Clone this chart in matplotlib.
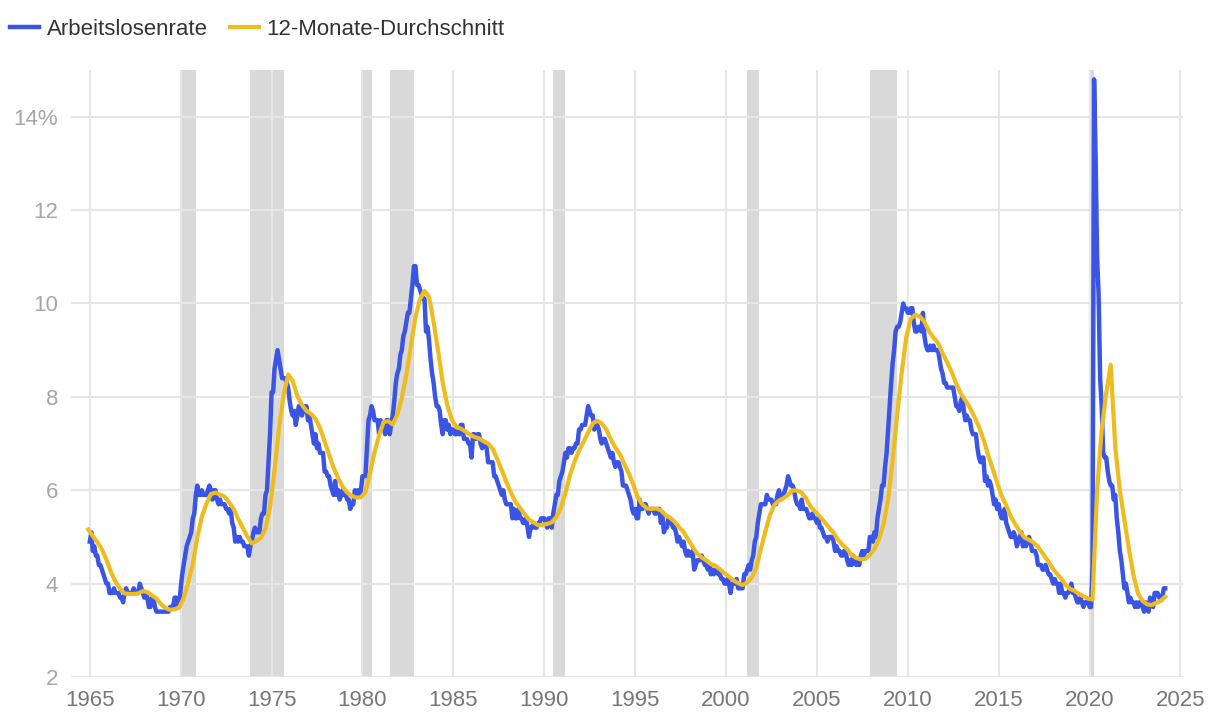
import matplotlib.pyplot as plt
import matplotlib.dates as mdates
import pandas as pd

plt.rcParams["font.family"] = ["Liberation Sans", "DejaVu Sans"]

BLUE = "#3a55e6"
YELLOW = "#efbc1f"
SHADE = "#d9d9d9"
GRID = "#e6e6e6"

# monthly unemployment rate in %, Jan 1965 - Mar 2024
unemployment_rate = [
    4.9, 5.1, 4.7, 4.8, 4.6, 4.6, 4.4, 4.4, 4.3, 4.2, 4.1, 4.0,   # 1965
    4.0, 3.8, 3.8, 3.8, 3.9, 3.8, 3.8, 3.8, 3.7, 3.7, 3.6, 3.8,   # 1966
    3.9, 3.8, 3.8, 3.8, 3.8, 3.9, 3.8, 3.8, 3.8, 4.0, 3.9, 3.8,   # 1967
    3.7, 3.8, 3.7, 3.5, 3.5, 3.7, 3.7, 3.5, 3.4, 3.4, 3.4, 3.4,   # 1968
    3.4, 3.4, 3.4, 3.4, 3.4, 3.5, 3.5, 3.5, 3.7, 3.7, 3.5, 3.5,   # 1969
    3.9, 4.2, 4.4, 4.6, 4.8, 4.9, 5.0, 5.1, 5.4, 5.5, 5.9, 6.1,   # 1970
    5.9, 5.9, 6.0, 5.9, 5.9, 5.9, 6.0, 6.1, 6.0, 5.8, 6.0, 6.0,   # 1971
    5.8, 5.7, 5.8, 5.7, 5.7, 5.7, 5.6, 5.6, 5.5, 5.6, 5.3, 5.2,   # 1972
    4.9, 5.0, 4.9, 5.0, 4.9, 4.9, 4.8, 4.8, 4.8, 4.6, 4.8, 4.9,   # 1973
    5.1, 5.2, 5.1, 5.1, 5.1, 5.4, 5.5, 5.5, 5.9, 6.0, 6.6, 7.2,   # 1974
    8.1, 8.1, 8.6, 8.8, 9.0, 8.8, 8.6, 8.4, 8.4, 8.4, 8.3, 8.2,   # 1975
    7.9, 7.7, 7.6, 7.7, 7.4, 7.6, 7.8, 7.8, 7.6, 7.7, 7.8, 7.8,   # 1976
    7.5, 7.6, 7.4, 7.2, 7.0, 7.2, 6.9, 7.0, 6.8, 6.8, 6.8, 6.4,   # 1977
    6.4, 6.3, 6.3, 6.1, 6.0, 5.9, 6.2, 5.9, 6.0, 5.8, 5.9, 6.0,   # 1978
    5.9, 5.9, 5.8, 5.8, 5.6, 5.7, 5.7, 6.0, 5.9, 6.0, 5.9, 6.0,   # 1979
    6.3, 6.3, 6.3, 6.9, 7.5, 7.6, 7.8, 7.7, 7.5, 7.5, 7.5, 7.2,   # 1980
    7.5, 7.4, 7.4, 7.2, 7.5, 7.5, 7.2, 7.4, 7.6, 7.9, 8.3, 8.5,   # 1981
    8.6, 8.9, 9.0, 9.3, 9.4, 9.6, 9.8, 9.8, 10.1, 10.4, 10.8, 10.8,  # 1982
    10.4, 10.4, 10.3, 10.2, 10.1, 10.1, 9.4, 9.5, 9.2, 8.8, 8.5, 8.3,  # 1983
    8.0, 7.8, 7.8, 7.7, 7.4, 7.2, 7.5, 7.5, 7.3, 7.4, 7.2, 7.3,   # 1984
    7.3, 7.2, 7.2, 7.3, 7.2, 7.4, 7.4, 7.1, 7.1, 7.1, 7.0, 7.0,   # 1985
    6.7, 7.2, 7.2, 7.1, 7.2, 7.2, 7.0, 6.9, 7.0, 7.0, 6.9, 6.6,   # 1986
    6.6, 6.6, 6.6, 6.3, 6.3, 6.2, 6.1, 6.0, 5.9, 6.0, 5.8, 5.7,   # 1987
    5.7, 5.7, 5.7, 5.4, 5.6, 5.4, 5.4, 5.6, 5.4, 5.4, 5.3, 5.3,   # 1988
    5.4, 5.2, 5.0, 5.2, 5.2, 5.3, 5.2, 5.2, 5.3, 5.3, 5.4, 5.4,   # 1989
    5.4, 5.3, 5.2, 5.4, 5.4, 5.2, 5.5, 5.7, 5.9, 5.9, 6.2, 6.3,   # 1990
    6.4, 6.6, 6.8, 6.7, 6.9, 6.9, 6.8, 6.9, 6.9, 7.0, 7.0, 7.3,   # 1991
    7.3, 7.4, 7.4, 7.4, 7.6, 7.8, 7.7, 7.6, 7.6, 7.3, 7.4, 7.4,   # 1992
    7.3, 7.1, 7.0, 7.1, 7.1, 7.0, 6.9, 6.8, 6.7, 6.8, 6.6, 6.5,   # 1993
    6.6, 6.6, 6.5, 6.4, 6.1, 6.1, 6.1, 6.0, 5.9, 5.8, 5.6, 5.5,   # 1994
    5.6, 5.4, 5.4, 5.8, 5.6, 5.6, 5.7, 5.7, 5.6, 5.5, 5.6, 5.6,   # 1995
    5.6, 5.5, 5.5, 5.6, 5.6, 5.3, 5.5, 5.1, 5.2, 5.2, 5.4, 5.4,   # 1996
    5.3, 5.2, 5.2, 5.1, 4.9, 5.0, 4.9, 4.8, 4.9, 4.7, 4.6, 4.7,   # 1997
    4.6, 4.6, 4.7, 4.3, 4.4, 4.5, 4.5, 4.5, 4.6, 4.5, 4.4, 4.4,   # 1998
    4.3, 4.4, 4.2, 4.3, 4.2, 4.3, 4.3, 4.2, 4.2, 4.1, 4.1, 4.0,   # 1999
    4.0, 4.1, 4.0, 3.8, 4.0, 4.0, 4.0, 4.1, 3.9, 3.9, 3.9, 3.9,   # 2000
    4.2, 4.2, 4.3, 4.4, 4.3, 4.5, 4.6, 4.9, 5.0, 5.3, 5.5, 5.7,   # 2001
    5.7, 5.7, 5.7, 5.9, 5.8, 5.8, 5.8, 5.7, 5.7, 5.7, 5.9, 6.0,   # 2002
    5.8, 5.9, 5.9, 6.0, 6.1, 6.3, 6.2, 6.1, 6.1, 6.0, 5.8, 5.7,   # 2003
    5.7, 5.6, 5.8, 5.6, 5.6, 5.6, 5.5, 5.4, 5.4, 5.5, 5.4, 5.4,   # 2004
    5.3, 5.4, 5.2, 5.2, 5.1, 5.0, 5.0, 4.9, 5.0, 5.0, 5.0, 4.9,   # 2005
    4.7, 4.8, 4.7, 4.7, 4.6, 4.6, 4.7, 4.7, 4.5, 4.4, 4.5, 4.4,   # 2006
    4.6, 4.5, 4.4, 4.5, 4.4, 4.6, 4.7, 4.6, 4.7, 4.7, 4.7, 5.0,   # 2007
    5.0, 4.9, 5.1, 5.0, 5.4, 5.6, 5.8, 6.1, 6.1, 6.5, 6.8, 7.3,   # 2008
    7.8, 8.3, 8.7, 9.0, 9.4, 9.5, 9.5, 9.6, 9.8, 10.0, 9.9, 9.9,  # 2009
    9.8, 9.8, 9.9, 9.9, 9.6, 9.4, 9.4, 9.5, 9.5, 9.4, 9.8, 9.3,   # 2010
    9.1, 9.0, 9.0, 9.1, 9.0, 9.1, 9.0, 9.0, 9.0, 8.8, 8.6, 8.5,   # 2011
    8.3, 8.3, 8.2, 8.2, 8.2, 8.2, 8.2, 8.0, 7.8, 7.8, 7.7, 7.9,   # 2012
    8.0, 7.7, 7.5, 7.6, 7.5, 7.5, 7.3, 7.2, 7.2, 7.2, 6.9, 6.7,   # 2013
    6.6, 6.7, 6.7, 6.2, 6.3, 6.1, 6.2, 6.1, 5.9, 5.7, 5.8, 5.6,   # 2014
    5.7, 5.5, 5.4, 5.4, 5.6, 5.3, 5.2, 5.1, 5.0, 5.0, 5.1, 5.0,   # 2015
    4.8, 4.9, 5.0, 5.1, 4.8, 4.9, 4.8, 4.9, 5.0, 4.9, 4.7, 4.7,   # 2016
    4.7, 4.6, 4.4, 4.4, 4.4, 4.3, 4.3, 4.4, 4.3, 4.2, 4.2, 4.1,   # 2017
    4.0, 4.1, 4.0, 4.0, 3.8, 4.0, 3.8, 3.8, 3.7, 3.8, 3.8, 3.9,   # 2018
    4.0, 3.8, 3.8, 3.7, 3.6, 3.6, 3.7, 3.6, 3.5, 3.6, 3.6, 3.6,   # 2019
    3.5, 3.5, 4.4, 14.8, 13.2, 11.0, 10.2, 8.4, 7.8, 6.8, 6.7, 6.7,  # 2020
    6.4, 6.2, 6.1, 6.1, 5.8, 5.9, 5.4, 5.1, 4.7, 4.5, 4.2, 3.9,   # 2021
    4.0, 3.8, 3.6, 3.7, 3.6, 3.6, 3.5, 3.6, 3.5, 3.6, 3.6, 3.5,   # 2022
    3.4, 3.6, 3.5, 3.4, 3.7, 3.6, 3.5, 3.8, 3.8, 3.8, 3.7, 3.7,   # 2023
    3.7, 3.9, 3.9,                                                # 2024
]

# 12-month average, read at quarter ends, Dec 1964 - Mar 2024
avg_12m = [
    5.16,                          # 1964
    5.02, 4.89, 4.73, 4.51,        # 1965
    4.25, 4.04, 3.89, 3.79,        # 1966
    3.78, 3.78, 3.79, 3.84,        # 1967
    3.82, 3.75, 3.68, 3.56,        # 1968
    3.48, 3.44, 3.45, 3.49,        # 1969
    3.69, 4.02, 4.42, 4.99,        # 1970
    5.43, 5.71, 5.92, 5.95,        # 1971
    5.91, 5.86, 5.74, 5.60,        # 1972
    5.39, 5.20, 5.01, 4.86,        # 1973
    4.91, 4.98, 5.18, 5.64,        # 1974
    6.43, 7.34, 8.05, 8.48,        # 1975
    8.34, 8.02, 7.83, 7.70,        # 1976
    7.64, 7.53, 7.33, 7.05,        # 1977
    6.76, 6.48, 6.26, 6.07,        # 1978
    5.95, 5.88, 5.84, 5.85,        # 1979
    5.96, 6.37, 6.82, 7.18,        # 1980
    7.46, 7.48, 7.41, 7.62,        # 1981
    7.97, 8.47, 9.10, 9.71,        # 1982
    10.09, 10.27, 10.14, 9.60,     # 1983
    8.98, 8.30, 7.82, 7.51,        # 1984
    7.35, 7.32, 7.26, 7.19,        # 1985
    7.14, 7.11, 7.05, 7.00,        # 1986
    6.89, 6.67, 6.43, 6.18,        # 1987
    5.95, 5.75, 5.62, 5.49,        # 1988
    5.37, 5.31, 5.25, 5.26,        # 1989
    5.28, 5.31, 5.43, 5.62,        # 1990
    5.94, 6.32, 6.61, 6.85,        # 1991
    7.04, 7.24, 7.43, 7.49,        # 1992
    7.43, 7.30, 7.09, 6.91,        # 1993
    6.77, 6.55, 6.35, 6.10,        # 1994
    5.83, 5.69, 5.61, 5.60,        # 1995
    5.61, 5.57, 5.47, 5.41,        # 1996
    5.33, 5.21, 5.11, 4.94,        # 1997
    4.79, 4.64, 4.56, 4.50,        # 1998
    4.42, 4.38, 4.31, 4.22,        # 1999
    4.15, 4.07, 4.01, 3.97,        # 2000
    4.02, 4.13, 4.34, 4.74,        # 2001
    5.11, 5.47, 5.69, 5.78,        # 2002
    5.83, 5.90, 6.00, 5.99,        # 2003
    5.95, 5.82, 5.64, 5.54,        # 2004
    5.44, 5.32, 5.20, 5.09,        # 2005
    4.94, 4.83, 4.74, 4.61,        # 2006
    4.55, 4.52, 4.53, 4.62,        # 2007
    4.74, 4.95, 5.28, 5.80,        # 2008
    6.62, 7.61, 8.52, 9.28,        # 2009
    9.67, 9.76, 9.72, 9.61,        # 2010
    9.41, 9.27, 9.15, 8.93,        # 2011
    8.74, 8.53, 8.28, 8.07,        # 2012
    7.93, 7.77, 7.57, 7.36,        # 2013
    7.09, 6.76, 6.47, 6.16,        # 2014
    5.88, 5.68, 5.44, 5.27,        # 2015
    5.12, 4.99, 4.94, 4.88,        # 2016
    4.79, 4.65, 4.51, 4.36,        # 2017
    4.23, 4.12, 3.98, 3.89,        # 2018
    3.85, 3.78, 3.73, 3.68,        # 2019
    3.66, 6.00, 7.30, 8.08,        # 2020
    8.69, 6.92, 5.99, 5.36,        # 2021
    4.75, 4.18, 3.79, 3.63,        # 2022
    3.56, 3.54, 3.59, 3.63,        # 2023
    3.72,                          # 2024
]

# shaded recession periods (start month, end month)
recessions = [
    ("1970-01", "1970-11"),
    ("1973-11", "1975-09"),
    ("1980-01", "1980-07"),
    ("1981-07", "1982-11"),
    ("1990-07", "1991-03"),
    ("2001-03", "2001-11"),
    ("2007-12", "2009-06"),
    ("2020-02", "2020-04"),
]

months = pd.date_range("1965-01-01", periods=len(unemployment_rate), freq="MS")
quarters = pd.date_range("1964-12-01", periods=len(avg_12m), freq="3MS")

fig = plt.figure(figsize=(12.2, 7.22), dpi=100)
ax = fig.add_axes([0.058, 0.0623, 0.912, 0.8407])

for start, end in recessions:
    ax.axvspan(pd.Timestamp(start), pd.Timestamp(end), color=SHADE, lw=0, zorder=0)

ax.plot(months, unemployment_rate, color=BLUE, lw=3.2, zorder=3,
        solid_joinstyle="round", label="Arbeitslosenrate")
ax.plot(quarters, avg_12m, color=YELLOW, lw=3.0, zorder=4,
        solid_joinstyle="round", label="12-Monate-Durchschnitt")

ax.set_ylim(2, 15)
ax.set_yticks(range(2, 15, 2))
ax.set_yticklabels([f"{v}%" if v == 14 else str(v) for v in range(2, 15, 2)])
ax.set_xlim(pd.Timestamp("1963-12-15"), pd.Timestamp("2025-03-01"))
ax.xaxis.set_major_locator(mdates.YearLocator(5))
ax.xaxis.set_major_formatter(mdates.DateFormatter("%Y"))

ax.set_axisbelow(True)
ax.grid(True, color=GRID, lw=1.5)
for s in ax.spines.values():
    s.set_visible(False)
ax.tick_params(axis="both", length=0, labelsize=16)
ax.tick_params(axis="y", colors="#a6a6a6", pad=9)
ax.tick_params(axis="x", colors="#777777", pad=9)

fig.legend(loc="center left", bbox_to_anchor=(0.0082, 0.959), ncol=2,
           frameon=False, fontsize=16, labelcolor="#333333", borderpad=0,
           borderaxespad=0, handlelength=1.3, handletextpad=0.35,
           columnspacing=1.0)

fig.savefig("out.png", dpi=100)
